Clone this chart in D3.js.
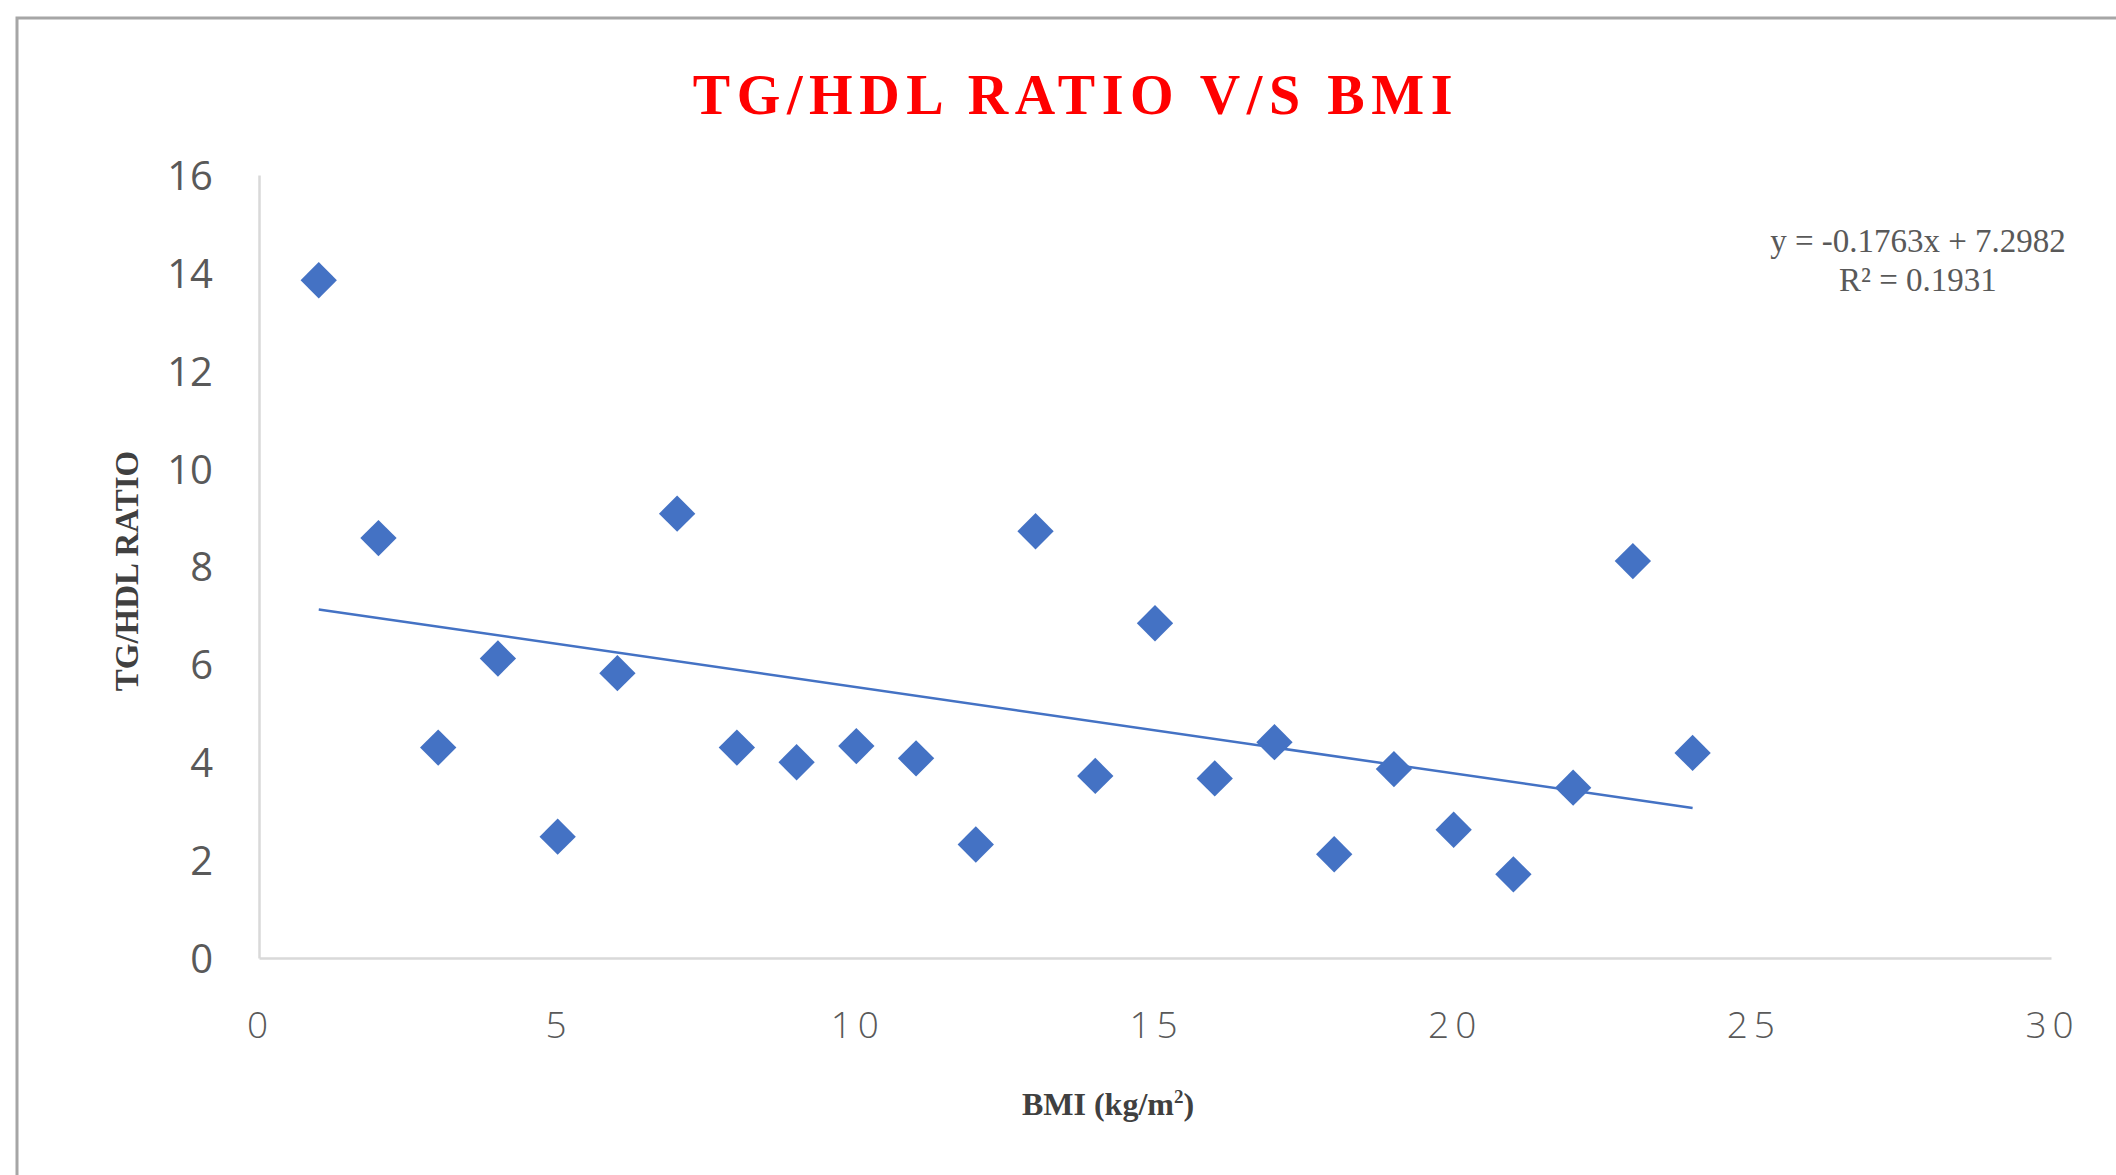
<!DOCTYPE html>
<html>
<head>
<meta charset="utf-8">
<script src="https://cdn.jsdelivr.net/npm/d3@7"></script>
<style>
  html, body { margin: 0; padding: 0; background: #fff; overflow: hidden; }
  svg { display: block; }
</style>
</head>
<body>
<svg id="chart" width="2116" height="1175"></svg>
<script>
// BMI (x) and TG/HDL ratio (y) observations
const bmi = [1, 2, 3, 4, 5, 6, 7, 8, 9, 10, 11, 12, 13, 14, 15, 16, 17, 18, 19, 20, 21, 22, 23, 24];
const ratio = [13.85, 8.58, 4.30, 6.12, 2.48, 5.82, 9.08, 4.30, 4.00, 4.33, 4.08, 2.32,
               8.72, 3.72, 6.84, 3.67, 4.41, 2.12, 3.86, 2.62, 1.71, 3.48, 8.11, 4.19];

// Linear trendline as reported
const slope = -0.1763;
const intercept = 7.2982;
const rSquared = 0.1931;

const xTicks = [0, 5, 10, 15, 20, 25, 30];
const yTicks = [0, 2, 4, 6, 8, 10, 12, 14, 16];

const svg = d3.select("#chart");

// outer chart frame
svg.append("rect")
  .attr("x", 17).attr("y", 18)
  .attr("width", 2200).attr("height", 1300)
  .attr("fill", "#fff")
  .attr("stroke", "#a6a6a6")
  .attr("stroke-width", 3);

const plot = { left: 259, right: 2051, top: 175, bottom: 958 };

const x = d3.scaleLinear().domain([0, 30]).range([plot.left, plot.right]);
const y = d3.scaleLinear().domain([0, 16]).range([plot.bottom, plot.top]);

// y axis
const yAxis = svg.append("g")
  .attr("transform", `translate(${plot.left},0)`)
  .call(d3.axisLeft(y).tickValues(yTicks).tickSize(0).tickPadding(46));
yAxis.select(".domain").attr("stroke", "#d9d9d9").attr("stroke-width", 2.5);
yAxis.selectAll("text")
  .attr("fill", "#595959")
  .attr("font-family", "'Open Sans', sans-serif")
  .attr("font-size", 40)
  .attr("dy", "0.36em");

// x axis
const xAxis = svg.append("g")
  .attr("transform", `translate(0,${plot.bottom})`)
  .call(d3.axisBottom(x).tickValues(xTicks).tickSize(0).tickPadding(54));
xAxis.select(".domain").attr("stroke", "#d9d9d9").attr("stroke-width", 2.5);
xAxis.selectAll("text")
  .attr("fill", "#595959")
  .attr("font-family", "'Open Sans', sans-serif")
  .attr("font-weight", 300)
  .attr("font-size", 37)
  .attr("letter-spacing", 6)
  .attr("dx", 1);

// title
svg.append("text")
  .attr("x", 1076).attr("y", 114)
  .attr("text-anchor", "middle")
  .attr("font-family", "'Liberation Serif', 'Times New Roman', serif")
  .attr("font-weight", "bold")
  .attr("font-size", 56)
  .attr("letter-spacing", 6.6)
  .attr("fill", "#ff0000")
  .text("TG/HDL RATIO V/S BMI");

// axis titles
svg.append("text")
  .attr("transform", "translate(138,571) rotate(-90)")
  .attr("text-anchor", "middle")
  .attr("font-family", "'Liberation Serif', 'Times New Roman', serif")
  .attr("font-weight", "bold")
  .attr("font-size", 33)
  .attr("fill", "#404040")
  .text("TG/HDL RATIO");

const xTitle = svg.append("text")
  .attr("x", 1108).attr("y", 1115)
  .attr("text-anchor", "middle")
  .attr("font-family", "'Liberation Serif', 'Times New Roman', serif")
  .attr("font-weight", "bold")
  .attr("font-size", 32)
  .attr("fill", "#404040");
xTitle.append("tspan").text("BMI (kg/m");
xTitle.append("tspan").attr("dy", -12).attr("font-size", 19).text("2");
xTitle.append("tspan").attr("dy", 12).text(")");

// trendline over the observed range
const xr = d3.extent(bmi);
svg.append("line")
  .attr("x1", x(xr[0])).attr("y1", y(slope * xr[0] + intercept))
  .attr("x2", x(xr[1])).attr("y2", y(slope * xr[1] + intercept))
  .attr("stroke", "#4472c4")
  .attr("stroke-width", 2.5);

// diamond markers
const diamond = d3.symbol().type(d3.symbolSquare).size(660);
svg.append("g").selectAll("path")
  .data(bmi.map((b, i) => [b, ratio[i]]))
  .join("path")
  .attr("d", diamond)
  .attr("transform", d => `translate(${x(d[0])},${y(d[1])}) rotate(45)`)
  .attr("fill", "#4472c4");

// trendline equation
const eq = svg.append("g")
  .attr("font-family", "'Liberation Serif', 'Times New Roman', serif")
  .attr("font-size", 33)
  .attr("fill", "#595959")
  .attr("text-anchor", "middle");
eq.append("text").attr("x", 1918).attr("y", 252)
  .text(`y = ${slope}x + ${intercept}`);
eq.append("text").attr("x", 1918).attr("y", 291)
  .text(`R² = ${rSquared}`);
</script>
</body>
</html>
